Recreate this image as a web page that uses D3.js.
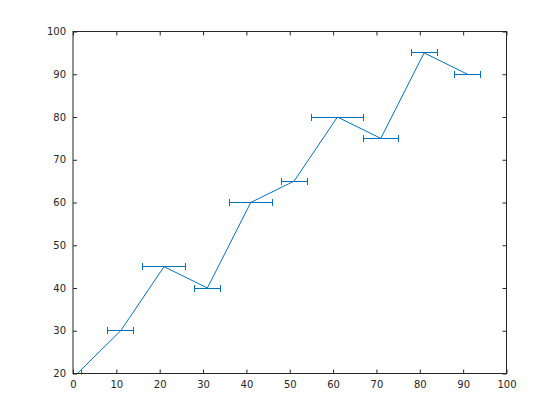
<!DOCTYPE html>
<html>
<head>
<meta charset="utf-8">
<script src="https://cdn.jsdelivr.net/npm/d3@7"></script>
<style>
  body { margin: 0; background: #fff; }
  svg { display: block; }
  .tick text { font-family: "DejaVu Sans", sans-serif; font-size: 10px; fill: #262626; }
</style>
</head>
<body>
<svg id="chart" width="560" height="420"></svg>
<script>
const xValues = [1, 11, 21, 31, 41, 51, 61, 71, 81, 91];
const yValues = [20, 30, 45, 40, 60, 65, 80, 75, 95, 90];
const xErrors = [1, 3, 5, 3, 5, 3, 6, 4, 3, 3];
const xTicks = [0, 10, 20, 30, 40, 50, 60, 70, 80, 90, 100];
const yTicks = [20, 30, 40, 50, 60, 70, 80, 90, 100];

(function () {
const svg = d3.select("#chart");
const pLeft = 73, pRight = 506.5, pTop = 31.5, pBottom = 373.5;
const x = d3.scaleLinear().domain([0, 100]).range([pLeft, pRight]);
const y = d3.scaleLinear().domain([20, 100]).range([pBottom, pTop]);
const axisColor = "#262626";
const snap = v => Math.floor(v) + 0.5;

svg.append("rect").attr("width", 560).attr("height", 420).attr("fill", "#fff");

svg.append("clipPath").attr("id", "clip").append("rect")
  .attr("x", pLeft - 1).attr("y", pTop).attr("width", pRight - pLeft + 1).attr("height", pBottom - pTop + 1);

const data = xValues.map((v, i) => ({ x: v, y: yValues[i], e: xErrors[i] }));
const g = svg.append("g").attr("clip-path", "url(#clip)");
const color = "#0072BD";

g.append("path").datum(data)
  .attr("fill", "none").attr("stroke", color).attr("stroke-width", 1)
  .attr("d", d3.line().x(d => x(d.x)).y(d => y(d.y)));

const eb = g.selectAll("g.eb").data(data).join("g").attr("class", "eb")
  .attr("stroke", color).attr("stroke-width", 1).attr("fill", "none");
eb.append("line")
  .attr("x1", d => snap(x(d.x - d.e))).attr("x2", d => snap(x(d.x + d.e)))
  .attr("y1", d => snap(y(d.y))).attr("y2", d => snap(y(d.y)));
eb.append("line")
  .attr("x1", d => snap(x(d.x - d.e))).attr("x2", d => snap(x(d.x - d.e)))
  .attr("y1", d => snap(y(d.y)) - 3.5).attr("y2", d => snap(y(d.y)) + 3.5);
eb.append("line")
  .attr("x1", d => snap(x(d.x + d.e))).attr("x2", d => snap(x(d.x + d.e)))
  .attr("y1", d => snap(y(d.y)) - 3.5).attr("y2", d => snap(y(d.y)) + 3.5);

function styleAxis(sel) {
  sel.select(".domain").remove();
  sel.selectAll(".tick line").attr("stroke", axisColor);
}
svg.append("g").attr("transform", `translate(0,${pBottom})`)
  .call(d3.axisBottom(x).tickValues(xTicks).tickSizeInner(-4).tickSizeOuter(0).tickPadding(7))
  .call(styleAxis);
svg.append("g").attr("transform", `translate(0,${pTop})`)
  .call(d3.axisTop(x).tickValues(xTicks).tickSizeInner(-4).tickSizeOuter(0).tickFormat(""))
  .call(styleAxis);
svg.append("g").attr("transform", `translate(${pLeft},0)`)
  .call(d3.axisLeft(y).tickValues(yTicks).tickSizeInner(-4).tickSizeOuter(0).tickPadding(7))
  .call(styleAxis);
svg.append("g").attr("transform", `translate(${pRight},0)`)
  .call(d3.axisRight(y).tickValues(yTicks).tickSizeInner(-4).tickSizeOuter(0).tickFormat(""))
  .call(styleAxis);

svg.append("rect").attr("x", pLeft).attr("y", pTop)
  .attr("width", pRight - pLeft).attr("height", pBottom - pTop)
  .attr("fill", "none").attr("stroke", axisColor).attr("stroke-width", 1);
})();
</script>
</body>
</html>
